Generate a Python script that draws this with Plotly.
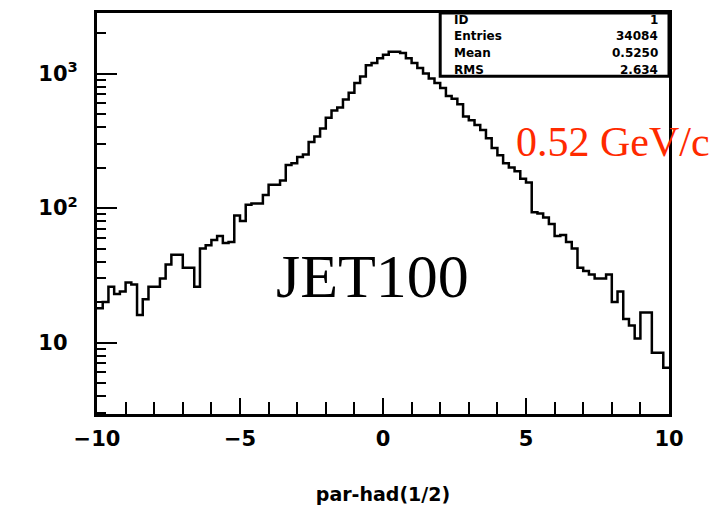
import numpy as np
import plotly.graph_objects as go

# Histogram: 100 bins of 0.2 between -10 and 10
x_lo, x_hi, n_bins = -10, 10, 100
counts = [
    18, 20, 26, 23, 24, 28, 27, 16, 21, 26,
    26, 30, 38, 45, 45, 36, 36, 26, 50, 53,
    58, 62, 55, 56, 88, 80, 106, 108, 108, 125,
    149, 149, 160, 209, 215, 240, 250, 310, 340, 390,
    470, 530, 560, 640, 720, 850, 950, 1150, 1200, 1300,
    1380, 1450, 1450, 1420, 1300, 1200, 1100, 1000, 920, 850,
    780, 680, 650, 590, 480, 450, 415, 380, 330, 280,
    247, 215, 200, 188, 165, 155, 93, 91, 85, 76,
    62, 63, 56, 50, 36, 34, 32, 30, 30, 32,
    20, 24, 15, 13.4, 10.7, 16.7, 16.7, 8.4, 8.4, 6.5,
]

stat_names = ["ID", "Entries", "Mean", "RMS"]
stat_values = ["1", "34084", "0.5250", "2.634"]

edges = np.linspace(x_lo, x_hi, n_bins + 1)
y_step = counts + [counts[-1]]

fig = go.Figure()
fig.add_trace(go.Scatter(
    x=edges, y=y_step, mode="lines", line_shape="hv",
    line=dict(color="black", width=2.5), showlegend=False,
))

bold = dict(family="DejaVu Sans", size=21, color="black", weight="bold")

# page body has an 8px margin, so the figure is a bit smaller than the window
fig.update_layout(
    width=709, height=501,
    margin=dict(l=89, r=48, t=2, b=95),
    paper_bgcolor="white", plot_bgcolor="white",
    font=dict(family="DejaVu Sans", color="black"),
)

fig.update_xaxes(
    range=[x_lo, x_hi], showgrid=False, zeroline=False,
    showline=True, linewidth=3, linecolor="black", mirror=True,
    tickvals=[-10, -5, 0, 5, 10], ticks="inside", ticklen=16, tickwidth=2,
    tickcolor="black", tickfont=bold, ticklabelstandoff=4,
    minor=dict(dtick=1, ticks="inside", ticklen=12, tickwidth=2, tickcolor="black"),
    title=dict(text="par-had(1/2)", font=dict(family="DejaVu Sans", size=19, weight="bold"), standoff=38),
)

fig.update_yaxes(
    type="log", range=[0.469, 3.45], showgrid=False, zeroline=False,
    showline=True, linewidth=3, linecolor="black", mirror=True,
    tickvals=[10, 100, 1000],
    ticktext=["10<sup>\u00a0\u00a0</sup>", "10<sup>2</sup>", "10<sup>3</sup>"],
    ticks="inside", ticklen=20, tickwidth=2, tickcolor="black", tickfont=bold,
    ticklabelstandoff=12,
    minor=dict(dtick="D1", ticks="inside", ticklen=9, tickwidth=2, tickcolor="black"),
)

# Statistics box in the upper right corner
fig.add_shape(type="rect", xref="paper", yref="paper",
              x0=0.6, x1=1.0, y0=0.842, y1=1.0,
              line=dict(color="black", width=3), fillcolor="white", layer="above")
row_y = [0.983, 0.942, 0.9, 0.858]
for name, val, yy in zip(stat_names, stat_values, row_y):
    fig.add_annotation(xref="paper", yref="paper", x=0.62, y=yy, text=name,
                       showarrow=False, xanchor="left", yanchor="middle",
                       font=dict(size=12, weight="bold", color="black"))
    fig.add_annotation(xref="paper", yref="paper", x=0.985, y=yy, text=val,
                       showarrow=False, xanchor="right", yanchor="middle",
                       font=dict(size=12, weight="bold", color="black"))

fig.add_annotation(xref="paper", yref="paper", x=0.481, y=0.345, text="JET100",
                   showarrow=False, xanchor="center", yanchor="middle",
                   font=dict(family="Liberation Serif, Times New Roman", size=62, color="black"))
fig.add_annotation(xref="paper", yref="paper", x=0.902, y=0.678, text="0.52 GeV/c",
                   showarrow=False, xanchor="center", yanchor="middle",
                   font=dict(family="Liberation Serif, Times New Roman", size=42, color="#ff2a00"))

fig.write_html("out.html")
